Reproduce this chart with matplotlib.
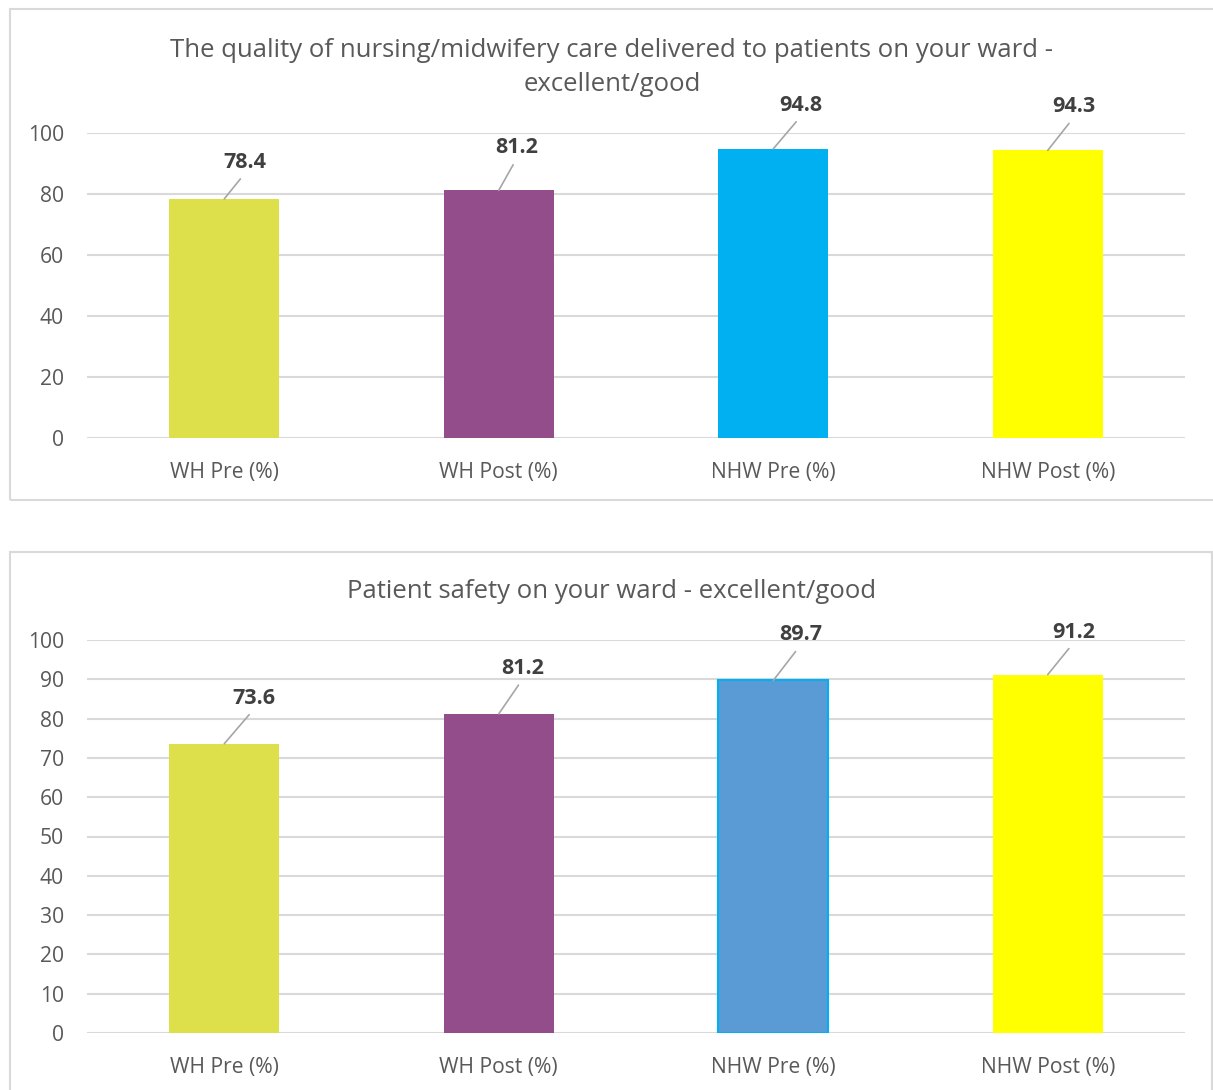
import matplotlib
matplotlib.use("Agg")
import matplotlib.pyplot as plt
from matplotlib.patches import Rectangle

plt.rcParams['font.family'] = ['Open Sans', 'DejaVu Sans']

categories = ["WH Pre (%)", "WH Post (%)", "NHW Pre (%)", "NHW Post (%)"]
quality_values = [78.4, 81.2, 94.8, 94.3]
safety_values = [73.6, 81.2, 89.7, 91.2]
quality_title = "The quality of nursing/midwifery care delivered to patients on your ward -\nexcellent/good"
safety_title = "Patient safety on your ward - excellent/good"
quality_ticks = [0, 20, 40, 60, 80, 100]
safety_ticks = [0, 10, 20, 30, 40, 50, 60, 70, 80, 90, 100]

quality_colors = ["#DDDF4B", "#934D8A", "#00B0F0", "#FFFF00"]
safety_colors = ["#DDDF4B", "#934D8A", "#5B9BD5", "#FFFF00"]
safety_edges = ["#DDDF4B", "#934D8A", "#00B0F0", "#FFFF00"]
quality_edge_widths = [0, 0, 0, 0]
safety_edge_widths = [0, 0, 1.5, 0]

# label offsets (pixels) from bar top to label baseline
quality_offsets = [(21, 31), (18, 37), (28, 38), (26, 38)]
safety_offsets = [(30, 40), (24, 40), (27, 40), (26, 37)]

W, H = 1213, 1090
fig = plt.figure(figsize=(W / 100, H / 100), dpi=100)

TXT = "#595959"
GRID = "#D9D9D9"


def fx(x):
    return x / W


def fy(y):
    return 1 - y / H


# panel borders
fig.patches.append(Rectangle((fx(10), fy(500)), fx(1230) - fx(10), fy(9) - fy(500),
                             transform=fig.transFigure, fill=False, edgecolor=GRID, lw=1.5))
fig.patches.append(Rectangle((fx(10), fy(1100)), fx(1212) - fx(10), fy(552) - fy(1100),
                             transform=fig.transFigure, fill=False, edgecolor=GRID, lw=1.5))


def panel(rect, values, colors, edges, ewidths, ticks, title, title_y, offsets):
    left, top, right, bottom = rect
    ax = fig.add_axes([fx(left), fy(bottom), fx(right) - fx(left), fy(top) - fy(bottom)])
    x = list(range(len(categories)))
    ax.bar(x, values, width=0.4, color=colors, edgecolor=edges, linewidth=ewidths, zorder=3)
    ax.set_xlim(-0.5, len(categories) - 0.5)
    ax.set_ylim(0, 100)
    ax.set_yticks(ticks)
    ax.set_xticks(x)
    ax.set_xticklabels(categories)
    ax.tick_params(axis='both', length=0, labelsize=15.2, colors=TXT)
    ax.tick_params(axis='y', pad=16.5)
    ax.tick_params(axis='x', pad=17)
    for s in ax.spines.values():
        s.set_visible(False)
    ax.grid(axis='y', color=GRID, lw=1.5, zorder=0)
    ax.set_axisbelow(True)
    for i, v in enumerate(values):
        dx, dy = offsets[i]
        ax.annotate(f"{v}", xy=(i, v), xytext=(dx, dy), textcoords='offset pixels',
                    ha='center', va='baseline', fontsize=15.5, fontweight='bold',
                    color="#404040", annotation_clip=False,
                    arrowprops=dict(arrowstyle='-', color='#A6A6A6', lw=1.2,
                                    relpos=(0.5, 0.0), shrinkA=3, shrinkB=0))
    fig.text(fx(612), fy(title_y), title, ha='center', va='baseline', fontsize=18.5,
             color=TXT, linespacing=1.45)
    return ax


panel((87, 133, 1185, 438), quality_values, quality_colors, quality_colors, quality_edge_widths,
      quality_ticks, quality_title, 91, quality_offsets)
panel((87, 640, 1185, 1033), safety_values, safety_colors, safety_edges, safety_edge_widths,
      safety_ticks, safety_title, 598, safety_offsets)

fig.savefig("out.png", dpi=100, facecolor="white")
